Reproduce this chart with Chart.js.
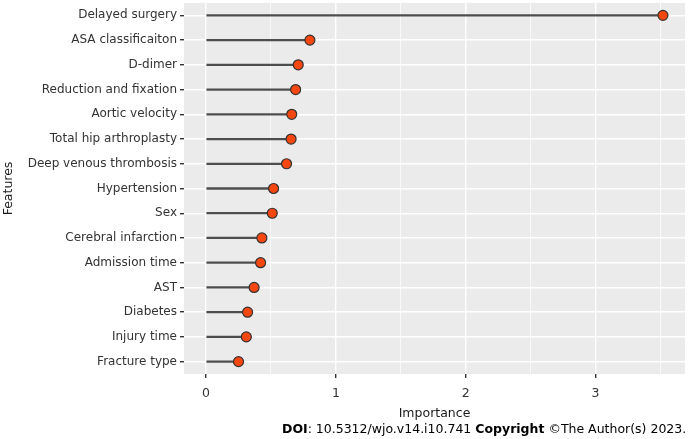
<!DOCTYPE html>
<html>
<head>
<meta charset="utf-8">
<script src="https://cdn.jsdelivr.net/npm/chart.js@4/dist/chart.umd.min.js"></script>
<style>
  html, body { margin: 0; padding: 0; background: #fff; }
  #wrap { width: 688px; height: 439px; position: relative; }
</style>
</head>
<body>
<div id="wrap"><canvas id="chart-importance"></canvas></div>
<script>
// ── Data ──────────────────────────────────────────────────────
const FEATURES = [
  'Delayed surgery', 'ASA classificaiton', 'D-dimer', 'Reduction and fixation',
  'Aortic velocity', 'Total hip arthroplasty', 'Deep venous thrombosis',
  'Hypertension', 'Sex', 'Cerebral infarction', 'Admission time', 'AST',
  'Diabetes', 'Injury time', 'Fracture type'
];
const IMPORTANCE = [3.52, 0.80, 0.71, 0.69, 0.66, 0.655, 0.62, 0.52, 0.51, 0.43, 0.42, 0.37, 0.32, 0.31, 0.25];
const X_TICKS = [0, 0.5, 1, 1.5, 2, 2.5, 3, 3.5];   // majors + ggplot minors
const X_LABELS = [0, 1, 2, 3];

const FONT = 'DejaVu Sans';
const COLORS = {
  panel: '#EBEBEB',
  stem:  '#4D4D4D',
  dot:   '#F5470F',
  dotEdge: '#333333',
  text:  '#333333',
  title: '#1A1A1A'
};

// grey panel behind the grid, ggplot style
const panelBg = {
  id: 'panelBg',
  beforeDraw(chart) {
    const { ctx, chartArea: a } = chart;
    ctx.save();
    ctx.fillStyle = '#fff';
    ctx.fillRect(0, 0, chart.width, chart.height);
    ctx.fillStyle = COLORS.panel;
    ctx.fillRect(a.left, a.top, a.right - a.left, a.bottom - a.top);
    ctx.restore();
  }
};

// journal footer line
const footer = {
  id: 'footer',
  afterDraw(chart) {
    const { ctx } = chart;
    const parts = [
      ['bold', 'DOI'], ['normal', ': 10.5312/wjo.v14.i10.741 '],
      ['bold', 'Copyright'], ['normal', ' \u00A9The Author(s) 2023.']
    ];
    ctx.save();
    ctx.fillStyle = '#000';
    ctx.textBaseline = 'alphabetic';
    let x = 282;
    parts.forEach(([w, t]) => {
      ctx.font = `${w} 12.5px ${FONT}`;
      ctx.fillText(t, x, 433);
      x += ctx.measureText(t).width;
    });
    ctx.restore();
  }
};

const isMajor = (v) => X_LABELS.includes(v);
const noPad = (s) => { s.paddingTop = 0; s.paddingBottom = 0; s.paddingLeft = 0; s.paddingRight = 0; };

new Chart(document.getElementById('chart-importance'), {
  type: 'bar',
  data: {
    labels: FEATURES,
    datasets: [
      {
        type: 'line',
        indexAxis: 'y',
        data: IMPORTANCE,
        showLine: false,
        pointRadius: 5,
        pointBackgroundColor: COLORS.dot,
        pointBorderColor: COLORS.dotEdge,
        pointBorderWidth: 1.2,
        order: 0
      },
      {
        indexAxis: 'y',
        data: IMPORTANCE,
        backgroundColor: COLORS.stem,
        barThickness: 1.6,
        order: 1
      }
    ]
  },
  options: {
    indexAxis: 'y',
    responsive: true,
    maintainAspectRatio: false,
    animation: false,
    layout: { autoPadding: false, padding: { top: 3, right: 3, bottom: 18, left: 0 } },
    plugins: { legend: { display: false }, tooltip: { enabled: false } },
    scales: {
      x: {
        type: 'linear',
        min: -0.17,
        max: 3.69,
        afterBuildTicks: (s) => { s.ticks = X_TICKS.map(v => ({ value: v })); },
        afterFit: (s) => { s.height = 47; noPad(s); },
        border: { display: false },
        grid: {
          color: '#fff',
          lineWidth: (c) => isMajor(c.tick && c.tick.value) ? 1.4 : 0.7,
          tickColor: (c) => isMajor(c.tick && c.tick.value) ? '#333' : 'rgba(0,0,0,0)',
          tickLength: 4,
          drawTicks: true
        },
        ticks: {
          autoSkip: false,
          maxRotation: 0,
          padding: 8,
          font: { family: FONT, size: 12.5 },
          color: COLORS.text,
          callback: (v) => isMajor(v) ? String(v) : ''
        },
        title: {
          display: true,
          text: 'Importance',
          font: { family: FONT, size: 12.5 },
          color: COLORS.title,
          padding: { top: 3, bottom: 0 }
        }
      },
      y: {
        type: 'category',
        offset: true,
        afterFit: (s) => { s.width = 184; noPad(s); },
        border: { display: false },
        grid: {
          offset: false,
          color: '#fff',
          lineWidth: 1.4,
          tickColor: '#333',
          tickLength: 4
        },
        ticks: {
          autoSkip: false,
          padding: 3,
          font: { family: FONT, size: 12 },
          color: COLORS.text
        },
        title: {
          display: true,
          text: 'Features',
          font: { family: FONT, size: 12.5 },
          color: COLORS.title,
          padding: { top: 1, bottom: 0 }
        }
      }
    }
  },
  plugins: [panelBg, footer]
});
</script>
</body>
</html>
